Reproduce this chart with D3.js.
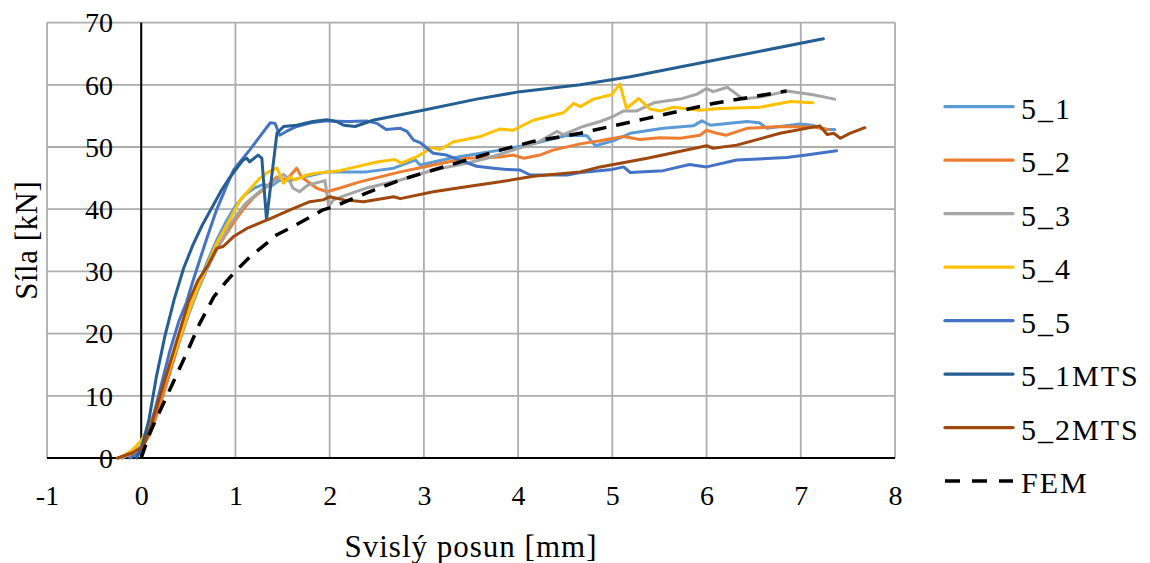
<!DOCTYPE html>
<html>
<head>
<meta charset="utf-8">
<script src="https://cdn.jsdelivr.net/npm/d3@7"></script>
<style>
  html, body { margin: 0; padding: 0; background: #ffffff; }
  svg { display: block; }
</style>
</head>
<body>
<svg id="chart" width="1150" height="563"></svg>
<script>
// Load–displacement curves: [vertical displacement (mm), force (kN)]
const s5_1 = [[-0.2,0],[-0.1,0.8],[0,2],[0.1,5.5],[0.2,10],[0.3,14.5],[0.4,19],[0.5,23.5],[0.6,27.5],[0.7,31.5],[0.8,35],[0.9,38],[1.0,40.5],[1.1,42.3],[1.2,43.4],[1.3,44],[1.37,43.6],[1.47,44.7],[1.58,44.6],[1.68,45.0],[1.76,45.3],[1.97,46.0],[2.2,46.0],[2.39,46.0],[2.68,46.6],[2.82,47.4],[2.91,47.9],[2.96,47.1],[3.28,48.2],[3.6,49.0],[3.81,49.5],[4.16,50.5],[4.52,51.9],[4.73,51.8],[4.82,50.2],[5.01,51.0],[5.19,52.2],[5.54,53.0],[5.86,53.4],[5.95,54.2],[6.04,53.5],[6.43,54.1],[6.56,53.9],[6.64,53.0],[6.99,53.7],[7.12,53.5],[7.28,52.8],[7.36,52.8]];
const s5_2 = [[-0.25,0],[-0.1,0.5],[0,1.5],[0.1,4],[0.2,8.5],[0.3,13.5],[0.4,18.5],[0.5,23],[0.6,27],[0.7,30.5],[0.8,33.5],[0.9,36],[1.0,38.3],[1.1,40.3],[1.2,42],[1.3,43.2],[1.37,44.2],[1.44,45.2],[1.54,44.7],[1.65,46.6],[1.70,45.2],[1.78,44.3],[1.86,43.4],[1.97,42.8],[2.11,43.4],[2.32,44.4],[2.75,46.0],[3.1,47.1],[3.45,48.2],[3.81,48.4],[3.95,48.7],[4.06,48.2],[4.23,48.7],[4.37,49.5],[4.66,50.5],[4.87,51.0],[5.12,51.7],[5.29,51.2],[5.5,51.5],[5.72,51.4],[5.93,51.9],[6.0,52.7],[6.11,52.2],[6.21,51.9],[6.43,53.0],[6.78,53.3],[7.13,53.2],[7.29,52.8]];
const s5_3 = [[-0.2,0],[-0.1,0.8],[0,2],[0.1,5.5],[0.2,10],[0.3,14.5],[0.4,19],[0.5,23],[0.6,27],[0.7,30.5],[0.8,33.5],[0.94,37.5],[1.1,40.8],[1.25,42.8],[1.4,44.3],[1.51,45.6],[1.56,45.0],[1.61,43.4],[1.68,42.8],[1.77,43.9],[1.9,44.4],[1.95,44.6],[1.99,40.4],[2.04,41.5],[2.18,42.3],[2.39,43.4],[2.75,44.7],[3.1,46.3],[3.45,47.4],[3.67,48.2],[3.95,49.5],[4.23,50.9],[4.41,52.5],[4.48,52.0],[4.69,53.3],[4.87,54.1],[5.01,54.9],[5.12,55.8],[5.26,55.8],[5.44,57.1],[5.72,57.7],[5.9,58.5],[6.0,59.4],[6.07,58.9],[6.22,59.6],[6.39,57.7],[6.6,58.1],[6.85,59.0],[7.13,58.4],[7.36,57.7]];
const s5_4 = [[-0.23,0],[-0.1,1.2],[0,2.8],[0.1,5.5],[0.2,10],[0.3,14.5],[0.4,19],[0.5,23.5],[0.6,27.5],[0.7,31],[0.8,34.5],[0.91,37.5],[1.05,41.5],[1.26,45.0],[1.35,46.0],[1.44,46.6],[1.51,44.2],[1.58,45.2],[1.63,44.7],[1.76,45.5],[1.86,45.8],[2.11,46.2],[2.22,46.6],[2.5,47.6],[2.69,48.0],[2.76,47.4],[2.92,48.4],[3.01,49.2],[3.08,49.9],[3.17,49.6],[3.31,50.8],[3.6,51.7],[3.81,52.9],[3.95,52.7],[4.16,54.3],[4.48,55.5],[4.59,57.0],[4.66,56.5],[4.8,57.7],[4.99,58.4],[5.08,60.1],[5.15,56.2],[5.28,57.8],[5.4,56.1],[5.51,55.8],[5.65,56.4],[5.93,55.9],[6.14,56.2],[6.57,56.4],[6.89,57.3],[7.13,57.1]];
const s5_5 = [[-0.12,0],[0,1],[0.1,5],[0.2,11],[0.3,17],[0.4,22],[0.48,25],[0.55,28.5],[0.62,31.8],[0.7,35.5],[0.8,39.9],[0.9,43.5],[0.98,46.3],[1.07,48],[1.15,49.5],[1.3,52.5],[1.37,53.9],[1.42,53.8],[1.47,51.9],[1.54,52.5],[1.65,53.3],[1.8,53.9],[1.97,54.2],[2.2,54.1],[2.39,54.2],[2.5,53.8],[2.6,52.8],[2.75,53.0],[2.82,52.5],[2.89,51.1],[2.96,50.7],[3.1,49.0],[3.24,48.7],[3.38,47.9],[3.56,46.9],[3.74,46.6],[3.88,46.4],[4.02,46.3],[4.13,45.5],[4.52,45.5],[4.66,45.9],[5.0,46.4],[5.12,46.8],[5.19,45.9],[5.54,46.2],[5.82,47.2],[6.0,46.8],[6.32,47.9],[6.85,48.3],[7.06,48.7],[7.38,49.4]];
const s5_1MTS = [[-0.05,0],[0,1.5],[0.08,6],[0.16,13],[0.25,19.5],[0.35,25.5],[0.45,30.5],[0.55,34.3],[0.65,37.5],[0.76,40.5],[0.85,43],[0.93,44.9],[1.0,46.3],[1.08,47.9],[1.12,48.2],[1.15,47.6],[1.24,48.7],[1.28,48.2],[1.33,38.3],[1.44,52.2],[1.51,53.3],[1.65,53.5],[1.82,54.1],[1.97,54.4],[2.07,54.1],[2.15,53.5],[2.27,53.3],[2.46,54.3],[2.99,55.9],[3.56,57.7],[4.02,58.9],[4.66,60.0],[5.19,61.3],[6.0,63.7],[7.24,67.4]];
const s5_2MTS = [[-0.25,0],[-0.1,0.8],[0.02,1.8],[0.1,5],[0.2,10],[0.3,15],[0.4,20],[0.5,25],[0.6,28.5],[0.71,31],[0.8,33.7],[0.87,34.0],[0.98,35.6],[1.12,36.9],[1.37,38.5],[1.58,39.9],[1.79,41.2],[1.93,41.5],[2.0,42.0],[2.15,41.5],[2.36,41.2],[2.68,42.0],[2.75,41.7],[3.1,42.8],[3.45,43.6],[3.81,44.4],[4.16,45.3],[4.66,46.0],[4.87,46.8],[5.37,48.2],[6.0,50.2],[6.07,49.8],[6.32,50.3],[6.78,52.2],[7.2,53.4],[7.28,52.0],[7.35,52.2],[7.42,51.4],[7.52,52.2],[7.68,53.1]];
const sFEM = [[0,0],[0.09,4],[0.27,9.9],[0.48,16.8],[0.62,21.6],[0.77,25.9],[0.91,28.5],[0.98,29.7],[1.15,32.3],[1.33,34.5],[1.44,35.9],[1.61,37.2],[1.93,39.9],[2.04,40.4],[2.39,42.6],[2.75,44.7],[3.1,46.3],[3.45,47.9],[3.81,49.5],[4.16,50.9],[4.66,52.2],[4.8,52.7],[5.37,54.6],[6.07,57.0],[6.85,59.0]];

const seriesNames = ["5_1", "5_2", "5_3", "5_4", "5_5", "5_1MTS", "5_2MTS", "FEM"];
const seriesData = [s5_1, s5_2, s5_3, s5_4, s5_5, s5_1MTS, s5_2MTS, sFEM];
const seriesColors = ["#5B9BD5", "#ED7D31", "#A5A5A5", "#FFC000", "#4472C4", "#255E91", "#9E480E", "#000000"];

const xTicks = [-1, 0, 1, 2, 3, 4, 5, 6, 7, 8];
const yTicks = [0, 10, 20, 30, 40, 50, 60, 70];
const xTitle = "Svislý posun [mm]";
const yTitle = "Síla [kN]";

const FONT = '"Liberation Serif", "Times New Roman", serif';

const svg = d3.select("#chart");
svg.append("rect").attr("width", 1150).attr("height", 563).attr("fill", "#ffffff");

const plot = { left: 47, right: 895, top: 22.6, bottom: 458 };
const x = d3.scaleLinear().domain([-1, 8]).range([plot.left, plot.right]);
const y = d3.scaleLinear().domain([0, 70]).range([plot.bottom, plot.top]);

// gridlines
const grid = svg.append("g").attr("stroke", "#ADADAD").attr("stroke-width", 1.8);
grid.selectAll("line.v").data(xTicks).join("line")
  .attr("x1", d => x(d)).attr("x2", d => x(d))
  .attr("y1", y(0)).attr("y2", y(70));
grid.selectAll("line.h").data(yTicks.filter(d => d > 0)).join("line")
  .attr("x1", x(-1)).attr("x2", x(8))
  .attr("y1", d => y(d)).attr("y2", d => y(d));

// zero axes
svg.append("line").attr("x1", x(0)).attr("x2", x(0)).attr("y1", y(0)).attr("y2", y(70))
  .attr("stroke", "#000").attr("stroke-width", 2);
svg.append("line").attr("x1", x(-1)).attr("x2", x(8)).attr("y1", y(0)).attr("y2", y(0))
  .attr("stroke", "#000").attr("stroke-width", 2);

// tick labels
const xAxis = svg.append("g").attr("transform", `translate(0,${y(0)})`)
  .call(d3.axisBottom(x).tickValues(xTicks).tickFormat(d => String(d)).tickSize(0));
xAxis.select(".domain").remove();
xAxis.selectAll("text").attr("y", 47).attr("dy", null)
  .style("font-family", FONT).style("font-size", "28px").attr("fill", "#000");

const yAxis = svg.append("g").attr("transform", "translate(113,0)")
  .call(d3.axisLeft(y).tickValues(yTicks).tickFormat(d => String(d)).tickSize(0).tickPadding(0));
yAxis.select(".domain").remove();
yAxis.selectAll("text").attr("dy", "0.33em")
  .style("font-family", FONT).style("font-size", "28px").attr("fill", "#000");

// axis titles
svg.append("text").attr("x", (plot.left + plot.right) / 2).attr("y", 557)
  .attr("text-anchor", "middle")
  .style("font-family", FONT).style("font-size", "31px").style("letter-spacing", "1px")
  .text(xTitle);
svg.append("text").attr("transform", `translate(37,${(plot.top + plot.bottom) / 2}) rotate(-90)`)
  .attr("text-anchor", "middle")
  .style("font-family", FONT).style("font-size", "31px").style("letter-spacing", "0.5px")
  .text(yTitle);

// series
const line = d3.line().x(d => x(d[0])).y(d => y(d[1]));
const lines = svg.append("g").attr("fill", "none").attr("stroke-linejoin", "round");
seriesData.forEach((data, i) => {
  const isFem = seriesNames[i] === "FEM";
  lines.append("path").datum(data)
    .attr("d", line)
    .attr("stroke", seriesColors[i])
    .attr("stroke-width", isFem ? 3.5 : 3)
    .attr("stroke-linecap", isFem ? "butt" : "round")
    .attr("stroke-dasharray", isFem ? "14,10" : null);
});

// legend
const legend = svg.append("g");
const legendY = d3.scalePoint().domain(seriesNames).range([106.7, 481]);
seriesNames.forEach((name, i) => {
  const ly = legendY(name);
  const isFem = name === "FEM";
  legend.append("line").attr("x1", 945).attr("x2", 1013).attr("y1", ly).attr("y2", ly)
    .attr("stroke", seriesColors[i]).attr("stroke-width", 3.3)
    .attr("stroke-linecap", isFem ? "butt" : "round")
    .attr("stroke-dasharray", isFem ? "15,12" : null);
  legend.append("text").attr("x", 1021).attr("y", ly + 12)
    .style("font-family", FONT).style("font-size", "30px").style("letter-spacing", "2px")
    .text(name);
});
</script>
</body>
</html>
